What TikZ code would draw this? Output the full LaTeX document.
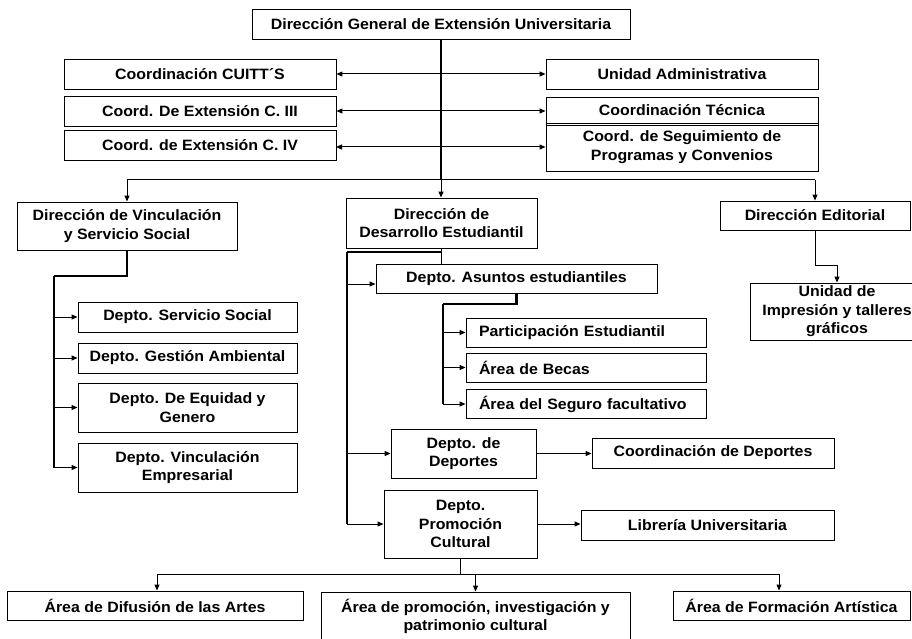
\documentclass[tikz,border=0pt]{standalone}
\usepackage{fontspec}
\newfontfamily\orgfont{Liberation Sans Bold}[FakeStretch=1.06]
\usetikzlibrary{arrows.meta,calc}

\tikzset{
  org/.style={draw, line width=0.9pt, fill=white, inner sep=0pt, align=center,
    font=\orgfont\fontsize{15}{18.5}\selectfont},
  lefttext/.style={align=left, inner xsep=13pt},
  link/.style={line width=1pt},
  trunk/.style={line width=2.6pt, line join=miter},
  midline/.style={line width=1.5pt},
  arr/.style={line width=1pt, -{Triangle[length=6pt,width=5pt]}},
  arrboth/.style={line width=1pt, {Triangle[length=6pt,width=5pt]}-{Triangle[length=6pt,width=5pt]}},
}

% \orgbox[options]{name}{x1}{x2}{y1}{y2}{text}
\newcommand\orgbox[7][]{%
  \node[org,#1,minimum width={(#4-#3)*1pt},minimum height={(#6-#5)*1pt}]
    (#2) at ({(#3+#4)/2},{(#5+#6)/2}) {#7};}

\begin{document}
\begin{tikzpicture}[x=1pt,y=-1pt]
\fill[white] (0,0) rectangle (912,639);
\useasboundingbox (0,0) rectangle (912,639);

% head office and staff units
\orgbox{top}{252}{630}{9}{39}{Dirección General de Extensión Universitaria}
\orgbox{cuitt}{64}{336}{59}{89}{Coordinación CUITT´S}
\orgbox{cthree}{64}{336}{96}{126}{Coord. De Extensión C. III}
\orgbox{cfour}{64}{336}{130}{160}{Coord. de Extensión C. IV}
\orgbox{uadm}{546}{818}{59}{89}{Unidad Administrativa}
\orgbox{ctec}{546}{818}{97}{123}{Coordinación Técnica}
\orgbox{cseg}{546}{818}{123}{171}{Coord. de Seguimiento de\\Programas y Convenios}
\draw[line width=0.9pt] ($(cseg.north west)+(0,3)$) -- ($(cseg.north east)+(0,3)$);

% directorates
\orgbox{dvin}{17}{237}{202}{250}{Dirección de Vinculación\\y Servicio Social}
\orgbox{dde}{346}{537}{198}{248}{Dirección de\\Desarrollo Estudiantil}
\orgbox{ded}{720}{910}{201}{230}{Dirección Editorial}
\orgbox{uig}{750}{924}{283}{340}{Unidad de\\Impresión y talleres\\gráficos}

% departments of Vinculación
\orgbox{dss}{78}{297}{302}{332}{Depto. Servicio Social}
\orgbox{dga}{78}{297}{343}{373}{Depto. Gestión Ambiental}
\orgbox{deq}{78}{297}{383}{432}{Depto. De Equidad y\\Genero}
\orgbox{dve}{78}{297}{443}{492}{Depto. Vinculación\\Empresarial}

% departments of Desarrollo Estudiantil
\orgbox{dae}{376}{657}{264}{293}{Depto. Asuntos estudiantiles}
\node[org,lefttext,text width=214pt,minimum height=29pt] (dpe) at (586,332.5) {Participación Estudiantil};
\node[org,lefttext,text width=214pt,minimum height=29pt] (dbe) at (586,367.5) {Área de Becas};
\node[org,lefttext,text width=214pt,minimum height=29pt] (dsf) at (586,404) {Área del Seguro facultativo};
\orgbox{ddp}{391}{536}{429}{478}{Depto. de\\Deportes}
\orgbox{ccd}{592}{834}{438}{468}{Coordinación de Deportes}
\orgbox{dpc}{384}{537}{490}{558}{Depto.\\Promoción\\Cultural}
\orgbox{lib}{581}{834}{510}{540}{Librería Universitaria}

% areas of Promoción Cultural
\orgbox{adf}{7}{303}{591}{620}{Área de Difusión de las Artes}
\orgbox{api}{321}{630}{592}{641}{Área de promoción, investigación y\\patrimonio cultural}
\orgbox{afa}{673}{910}{591}{620}{Área de Formación Artística}

% ---- connectors ----
\coordinate (bar) at (441,180);
\draw[trunk] (top.south) -- (top.south |- bar);
\draw[link] (dvin.north |- bar) -- (ded.north |- bar);
\draw[arr] (dvin.north |- bar) -- (dvin.north);
\draw[arr] (bar) -- (bar |- dde.north);
\draw[arr] (ded.north |- bar) -- (ded.north);

\draw[arrboth] (cuitt.east) -- (uadm.west);
\draw[arrboth] (cthree.east) -- (cthree.east -| ctec.west);
\coordinate (cfourline) at (336,147);
\draw[arrboth] (cfourline) -- (cfourline -| cseg.west);

% Vinculación branch
\coordinate (vl) at (54,276);
\draw[trunk] (dvin.south) |- (vl);
\draw[midline] (vl) -- (vl |- dve.west);
\draw[arr] (vl |- dss.west) -- (dss.west);
\draw[arr] (vl |- dga.west) -- (dga.west);
\draw[arr] (vl |- deq.west) -- (deq.west);
\draw[arr] (vl |- dve.west) -- (dve.west);

% Desarrollo Estudiantil branch
\coordinate (ml) at (347,252);
\draw[link] (dde.south) -- (dde.south |- dae.north);
\draw[trunk] (dde.south |- ml) -- (ml);
\draw[midline] (ml) -- (ml |- dpc.west);
\coordinate (ma) at (347,284);
\draw[arr] (ma) -- (ma -| dae.west);
\draw[arr] (ml |- ddp.west) -- (ddp.west);
\draw[arr] (ml |- dpc.west) -- (dpc.west);

\coordinate (sl) at (443,304);
\draw[trunk] (dae.south) |- (sl);
\draw[midline] (sl) -- (sl |- dsf.west);
\draw[arr] (sl |- dpe.west) -- (dpe.west);
\draw[arr] (sl |- dbe.west) -- (dbe.west);
\draw[arr] (sl |- dsf.west) -- (dsf.west);

\draw[arr] (ddp.east) -- (ddp.east -| ccd.west);
\draw[arr] (dpc.east) -- (dpc.east -| lib.west);

% Editorial branch
\coordinate (ek) at (837,265);
\draw[arr] (ded.south) |- (ek) -- (uig.north);

% Promoción Cultural areas
\coordinate (bb) at (460,574);
\coordinate (bl) at (157,574);
\coordinate (br) at (779,574);
\draw[link] (dpc.south) -- (dpc.south |- bb);
\draw[link] (bl) -- (br);
\draw[arr] (bl) -- (bl |- adf.north);
\draw[arr] (api.north |- bb) -- (api.north);
\draw[arr] (br) -- (br |- afa.north);
\end{tikzpicture}
\end{document}
